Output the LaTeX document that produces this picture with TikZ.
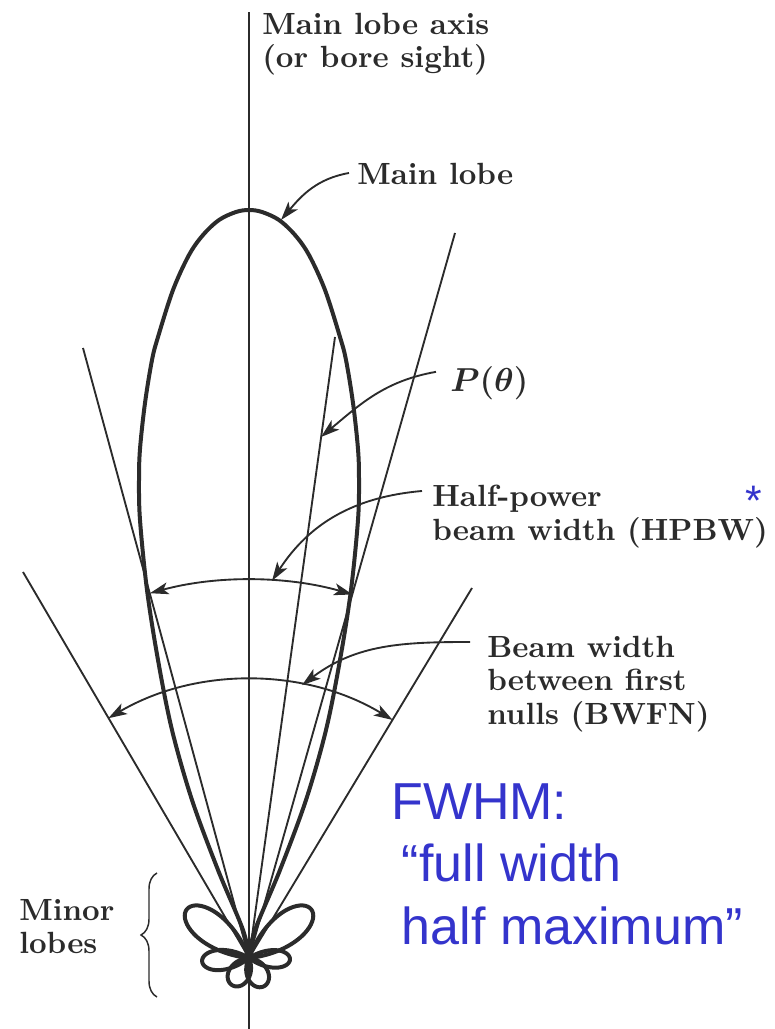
\documentclass[tikz,border=0pt]{standalone}
\usepackage{amsmath}
\usepackage{amssymb}
\usepackage{fontspec}
\newfontfamily\fwhmschrift{Liberation Sans}
\newfontfamily\beschrschrift{lmroman10-bold.otf}
\usetikzlibrary{arrows.meta,calc,decorations.pathreplacing}
\definecolor{tinte}{HTML}{2B2B2B}
\definecolor{blau}{HTML}{3434CC}
\tikzset{
  keule/.style={tinte,line width=3pt,line join=round},
  strahl/.style={tinte,line width=1.4pt},
  zeiger/.style={-{Stealth[length=14pt,width=9pt,inset=3.5pt]},tinte,line width=1.4pt},
  bogen/.style={{Stealth[length=14pt,width=9pt,inset=3.5pt]}-{Stealth[length=14pt,width=9pt,inset=3.5pt]},tinte,line width=1.4pt},
  beschr/.style={tinte,font=\beschrschrift\fontsize{23}{25}\selectfont,inner sep=0pt,align=left},
  klammer/.style={decorate,decoration={brace,amplitude=12pt},tinte,line width=1.1pt},
}

\begin{document}
\begin{tikzpicture}[x=0.75pt,y=0.75pt]
  \useasboundingbox (0,0) rectangle (775,1029);
  \coordinate (O) at (249,71);
  % --- Achse und Strahlen ---
  \draw[strahl] (249,0) -- (249,1017);
  \coordinate (nullL) at (23,457);
  \coordinate (nullR) at (472,441);
  \coordinate (halbL) at (83,681);
  \coordinate (halbR) at (455,796);
  \coordinate (pend) at (335,692);
  \draw[strahl] (O) -- (nullL);
  \draw[strahl] (O) -- (nullR);
  \draw[strahl] (O) -- (halbL);
  \draw[strahl] (O) -- (halbR);
  \draw[strahl] (O) -- (pend);
  % --- Hauptkeule ---
  \draw[keule] plot[smooth,tension=0.55] coordinates {
    (249,71) (255,99) (280,159) (306,229) (326,299) (340,369) (351,439)
    (358,509) (359,549) (358,580) (353,626) (346,669) (340,692) (325,739)
    (309,774) (295,794) (279,809) (262,817) (249,819)
    (236,817) (219,809) (203,794) (189,774) (173,739) (158,692) (152,669)
    (145,626) (140,580) (139,549) (140,509) (147,439) (158,369) (172,299)
    (192,229) (218,159) (243,99) (249,71)};
  % --- Nebenkeulen ---
  \begin{scope}[shift={(O)}]
    \foreach \richt/\lang/\breit in {142/79/32, 38/79/32, 184/47/35, -2/41/35, 238/32/55, 298/32/55}
      \draw[keule] plot[domain=-\breit:\breit,samples=41,smooth] ({\richt+\x}:{\lang*cos(90*\x/\breit)});
  \end{scope}
  % --- Winkelbogen ---
  \draw[bogen] ($(O)+(74.1:378)$) arc[start angle=74.1,end angle=105.2,radius=378];
  \draw[bogen] ($(O)+(58.9:278)$) arc[start angle=58.9,end angle=120.4,radius=278];
  % --- Beschriftung ---
  \node[beschr,anchor=north west] (achse) at (262,1016) {Main lobe axis\\(or bore sight)};
  \node[beschr,anchor=north west] (haupt) at (357,866) {Main lobe};
  \node[beschr,anchor=base west] (pth) at (450,637) {\fontsize{26}{26}\selectfont$\boldsymbol{P(\theta)}$};
  \node[beschr,anchor=north west] (hpbw) at (432,544) {Half-power\\beam width (HPBW)};
  \node[beschr,anchor=north west] (bwfn) at (487,393) {Beam width\\between first\\nulls (BWFN)};
  \node[beschr,anchor=north west] (neben) at (19,130) {Minor\\lobes};
  \node[blau,font=\fwhmschrift\fontsize{32}{32}\selectfont,inner sep=0pt] (stern) at (754,538) {\smash{\raisebox{-0.57em}{*}}};
  \node[blau,font=\fwhmschrift\fontsize{39}{47}\selectfont,inner sep=0pt,align=left,anchor=north west] (fwhm) at (391,246)
    {FWHM:\\\hspace*{8pt}“full width\\\hspace*{8pt}half maximum”};
  % --- Zeiger ---
  \coordinate (spHaupt) at (281,809);
  \coordinate (spP) at (321,592);
  \coordinate (spH) at ($(O)+(86.5:378)$);
  \coordinate (spB) at ($(O)+(79:278)$);
  \draw[zeiger] ([shift={(-8,-10)}]haupt.north west) to[out=190,in=50] (spHaupt);
  \draw[zeiger] ([shift={(-14,-5)}]pth.north west) to[out=190,in=40] (spP);
  \draw[zeiger] ([shift={(-10,-6)}]hpbw.north west) to[out=185,in=57] (spH);
  \draw[zeiger] ([shift={(-17,-6)}]bwfn.north west) to[out=180,in=37] (spB);
  % --- Klammer ---
  \draw[klammer] (157,32) -- (157,156);
\end{tikzpicture}
\end{document}
